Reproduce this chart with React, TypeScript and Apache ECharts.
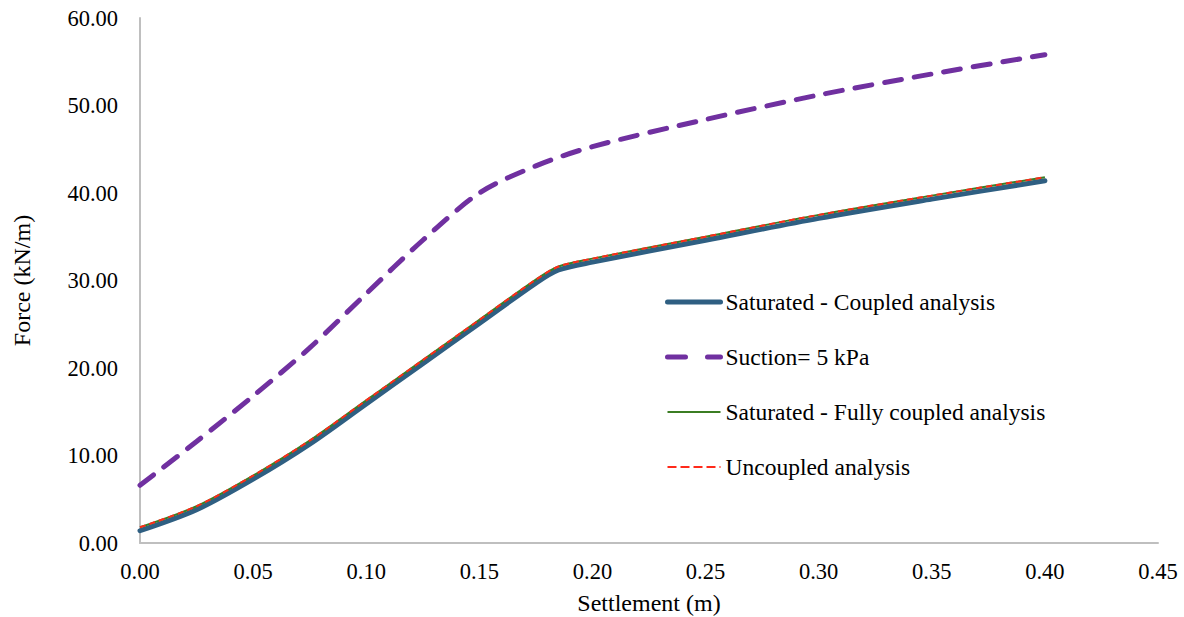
import React, { useEffect, useRef } from "react";
import * as echarts from "echarts";

const settlement = [0, 0.025, 0.05, 0.075, 0.1, 0.125, 0.15, 0.175, 0.185, 0.2, 0.25, 0.3, 0.35, 0.4];
const saturatedCoupled = [1.4, 3.8, 7.3, 11.3, 15.9, 20.5, 25.1, 29.7, 31.2, 32.1, 34.6, 37.1, 39.3, 41.4];
const fullyCoupled = [1.8, 4.2, 7.7, 11.7, 16.3, 20.9, 25.5, 30.1, 31.6, 32.5, 35.0, 37.5, 39.7, 41.8];
const uncoupled = [1.8, 4.2, 7.7, 11.7, 16.3, 20.9, 25.5, 30.1, 31.6, 32.5, 35.0, 37.5, 39.7, 41.8];

const suctionSettlement = [0, 0.025, 0.05, 0.075, 0.1, 0.125, 0.15, 0.175, 0.2, 0.25, 0.3, 0.35, 0.4];
const suction5kPa = [6.6, 11.6, 16.8, 22.3, 28.5, 34.6, 40.0, 43.1, 45.3, 48.4, 51.2, 53.6, 55.8];

const seriesNames = [
  "Saturated - Coupled analysis",
  "Suction= 5 kPa",
  "Saturated - Fully coupled analysis",
  "Uncoupled analysis",
];

const FONT = '"Liberation Serif", "Times New Roman", serif';
const BLUE = "#2f5f82";
const PURPLE = "#7030a0";
const GREEN = "#3b7d23";
const RED = "#ff2a1a";

const pairs = (xs: number[], ys: number[]) => xs.map((x, i) => [x, ys[i]]);

export default function App() {
  const ref = useRef<HTMLDivElement>(null);
  useEffect(() => {
    document.body.style.margin = "0";
    if (!ref.current) return;
    const chart = echarts.init(ref.current, undefined, { renderer: "svg" });
    chart.setOption({
      animation: false,
      backgroundColor: "#ffffff",
      grid: { left: 140, right: 26, top: 18, bottom: 74, outerBoundsMode: "none" },
      legend: {
        orient: "vertical",
        left: 660,
        top: 285,
        itemWidth: 53,
        itemHeight: 14,
        itemGap: 31,
        itemStyle: { opacity: 0 },
        data: [
          { name: seriesNames[0], lineStyle: { color: BLUE, width: 5, cap: "round" } },
          { name: seriesNames[1], lineStyle: { color: PURPLE, width: 5, type: [18, 22], cap: "round" } },
          { name: seriesNames[2], lineStyle: { color: GREEN, width: 2 } },
          { name: seriesNames[3], lineStyle: { color: RED, width: 2, type: [9, 4] } },
        ],
        textStyle: { fontFamily: FONT, fontSize: 23.5, color: "#000", lineHeight: 24 },
      },
      xAxis: {
        type: "value",
        min: 0,
        max: 0.45,
        interval: 0.05,
        name: "Settlement (m)",
        nameLocation: "middle",
        nameGap: 48,
        nameMoveOverlap: false,
        nameTextStyle: { fontFamily: FONT, fontSize: 24, color: "#000" },
        axisLine: { show: true, lineStyle: { color: "#bfbfbf", width: 2 } },
        axisTick: { show: false },
        splitLine: { show: false },
        axisLabel: {
          fontFamily: FONT,
          fontSize: 22.5,
          color: "#000",
          margin: 17,
          formatter: (v: number) => v.toFixed(2),
        },
      },
      yAxis: {
        type: "value",
        min: 0,
        max: 60,
        interval: 10,
        name: "Force (kN/m)",
        nameLocation: "middle",
        nameGap: 106,
        nameMoveOverlap: false,
        nameTextStyle: { fontFamily: FONT, fontSize: 24, color: "#000" },
        axisLine: { show: true, lineStyle: { color: "#bfbfbf", width: 2 } },
        axisTick: { show: false },
        splitLine: { show: false },
        axisLabel: {
          fontFamily: FONT,
          fontSize: 22.5,
          color: "#000",
          margin: 22,
          formatter: (v: number) => v.toFixed(2),
        },
      },
      series: [
        {
          name: seriesNames[0],
          type: "line",
          data: pairs(settlement, saturatedCoupled),
          smooth: 0.3,
          symbol: "none",
          lineStyle: { color: BLUE, width: 5, cap: "round" },
          itemStyle: { color: BLUE },
          z: 1,
        },
        {
          name: seriesNames[1],
          type: "line",
          data: pairs(suctionSettlement, suction5kPa),
          smooth: 0.3,
          symbol: "none",
          lineStyle: { color: PURPLE, width: 5, type: [17, 13], cap: "round" },
          itemStyle: { color: PURPLE },
          z: 2,
        },
        {
          name: seriesNames[2],
          type: "line",
          data: pairs(settlement, fullyCoupled),
          smooth: 0.3,
          symbol: "none",
          lineStyle: { color: GREEN, width: 2 },
          itemStyle: { color: GREEN },
          z: 3,
        },
        {
          name: seriesNames[3],
          type: "line",
          data: pairs(settlement, uncoupled),
          smooth: 0.3,
          symbol: "none",
          lineStyle: { color: RED, width: 2, type: [6, 4] },
          itemStyle: { color: RED },
          z: 4,
        },
      ],
    });
    return () => chart.dispose();
  }, []);
  return <div ref={ref} style={{ width: 1184, height: 617 }} />;
}
